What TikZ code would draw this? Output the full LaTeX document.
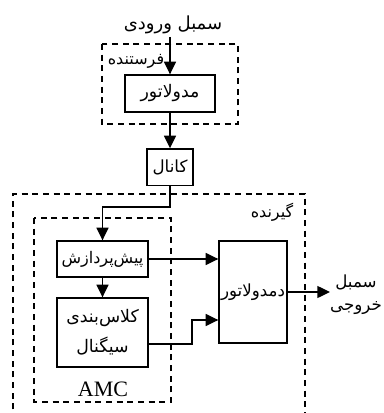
\documentclass[tikz,border=0pt]{standalone}
\usepackage{fontspec}
\setmainfont{Liberation Serif}
\newfontfamily\fa[Script=Arabic]{DejaVu Sans}
\TeXXeTstate=1
\usetikzlibrary{arrows.meta}
\newcommand{\fatxt}[1]{\beginR #1\endR}
\newcommand{\fsz}[1]{\fontsize{#1}{17}\selectfont}
\tikzset{
  blk/.style={draw, line width=1pt, inner sep=0pt, align=center, font=\fa\fsz{13}},
  lbl/.style={inner sep=0pt, align=center, font=\fa\fsz{13}},
  grp/.style={draw, line width=1pt, dash pattern=on 4.5pt off 3.5pt},
  arr/.style={line width=1pt, -{Triangle[length=9.5pt,width=9pt]}},
  ln/.style={line width=1pt}
}
\begin{document}
\begin{tikzpicture}[x=0.75pt,y=-0.75pt]
\useasboundingbox (0,0) rectangle (383,413);
% group frames
\draw[grp] (102,44) rectangle (238,124);
\draw[grp] (13,420) -- (13,194) -- (305,194) -- (305,420);
\draw[grp] (34,218) rectangle (171,402);
% labels
\node[lbl, font=\fa\fsz{13.5}] (in) at (173,25) {\fatxt{سمبل ورودی}};
\node[lbl, font=\fa\fsz{12}] (tx) at (136,61) {\fatxt{فرستنده}};
\node[lbl, font=\fa\fsz{12}] (rx) at (272,212) {\fatxt{گیرنده}};
\node[inner sep=0pt, font=\fontsize{16.5}{18}\selectfont] (amc) at (103,389) {AMC};
\node[lbl, font=\fa\fontsize{12.5}{17}\selectfont] (out) at (356,295) {\fatxt{سمبل}\\\fatxt{خروجی}};
% blocks
\node[blk, minimum width=67.5pt, minimum height=27.75pt] (mod) at (170,93.5) {\fatxt{مدولاتور}};
\node[blk, minimum width=34.5pt, minimum height=27.5pt, font=\fa\fsz{12.5}] (chan) at (170,167.3) {\fatxt{کانال}};
\node[blk, minimum width=68.25pt, minimum height=27pt, font=\fa\fsz{12}] (pre) at (102.5,259) {\fatxt{پیش‌پردازش}};
\node[blk, minimum width=68.25pt, minimum height=51.75pt, font=\fa\fontsize{13}{22.5}\selectfont] (cls) at (102.5,332.5) {\fatxt{کلاس‌بندی}\\\fatxt{سیگنال}};
\node[blk, minimum width=51pt, minimum height=76.5pt, font=\fa\fsz{12.5}] (dem) at (253,292) {\fatxt{دمدولاتور}};
% connectors
\coordinate (inb) at (170,37);
\coordinate (c1) at (170,207);
\coordinate (c2) at (192,344);
\draw[arr] (inb) -- (mod.north);
\draw[arr] (mod.south) -- (chan.north);
\draw[arr] (chan.south) -- (c1) -| (pre.north);
\draw[arr] (pre.south) -- (cls.north);
\draw[arr] (pre.east) -- (pre.east -| dem.west);
\draw[arr] (cls.east |- c2) -- (c2) |- (dem.west |- 0,320);
\draw[arr] (dem.east) -- (330,292);
\end{tikzpicture}
\end{document}
